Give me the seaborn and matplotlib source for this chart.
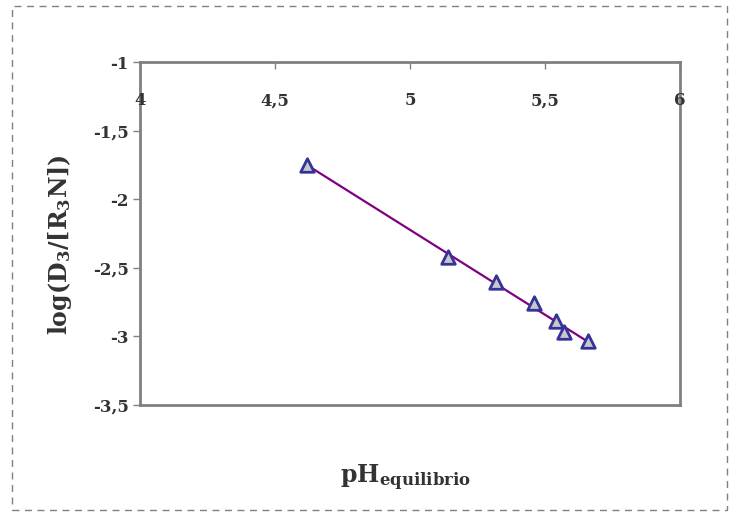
import matplotlib
matplotlib.use("Agg")
import matplotlib.pyplot as plt
import seaborn as sns
import pandas as pd
from matplotlib.patches import Rectangle

# Extraction data: equilibrium pH vs log(D3/[R3N])
ph_eq = [4.62, 5.14, 5.32, 5.46, 5.54, 5.57, 5.66]
log_d = [-1.75, -2.42, -2.60, -2.76, -2.89, -2.97, -3.03]

x_ticks = [4, 4.5, 5, 5.5, 6]
x_tick_labels = ["4", "4,5", "5", "5,5", "6"]
y_ticks = [-1, -1.5, -2, -2.5, -3, -3.5]
y_tick_labels = ["-1", "-1,5", "-2", "-2,5", "-3", "-3,5"]

df = pd.DataFrame({"ph": ph_eq, "logd": log_d})

sns.set_theme(style="white")
plt.rcParams["font.family"] = ["DejaVu Serif"]
plt.rcParams["mathtext.fontset"] = "dejavuserif"

fig = plt.figure(figsize=(7.34, 5.16), dpi=100)
ax = fig.add_axes([0.1907, 0.2151, 0.7357, 0.6647])

# linear trend line over the data range
sns.regplot(data=df, x="ph", y="logd", ax=ax, ci=None, truncate=True,
            scatter=False, color="#800080", line_kws={"lw": 1.6, "zorder": 2})
# data markers
sns.scatterplot(data=df, x="ph", y="logd", ax=ax, marker="^", s=95,
                color="#c8c8c8", edgecolor="#333399", linewidth=2.0, zorder=3)

ax.set_xlim(4, 6)
ax.set_ylim(-3.5, -1)
ax.set_xticks(x_ticks)
ax.set_xticklabels(x_tick_labels)
ax.set_yticks(y_ticks)
ax.set_yticklabels(y_tick_labels)

# x axis runs along the top, with labels hanging inside the plot
ax.xaxis.tick_top()
ax.tick_params(axis="x", direction="in", length=5, width=1, color="#808080",
               pad=-34, labelsize=12, labelcolor="#333333")
ax.tick_params(axis="y", direction="out", length=5, width=1, color="#808080",
               pad=3, labelsize=12, labelcolor="#333333")
ax.tick_params(left=True, top=True, bottom=False)
for lab in ax.get_xticklabels() + ax.get_yticklabels():
    lab.set_fontweight("bold")

for sp in ax.spines.values():
    sp.set_color("#808080")
    sp.set_linewidth(2)
    sp.set_visible(True)
    sp.set_zorder(0.5)

ax.set_xlabel("")
ax.set_ylabel("")
fig.text(0.082, 0.525, r"$\mathbf{log(D_3/[R_3N])}$", rotation=90, ha="center",
         va="center", fontsize=17, color="#333333")
fig.text(0.552, 0.074, r"$\mathbf{pH_{equilibrio}}$", ha="center", va="center",
         fontsize=17, color="#333333")

# dashed frame around the chart area
fig.patches.append(Rectangle((12 / 734, 6 / 516), 715 / 734, 504 / 516,
                             transform=fig.transFigure, fill=False,
                             edgecolor="#808080", lw=1, linestyle=(0, (5, 4))))

fig.savefig("out.png", dpi=100, facecolor="white")
